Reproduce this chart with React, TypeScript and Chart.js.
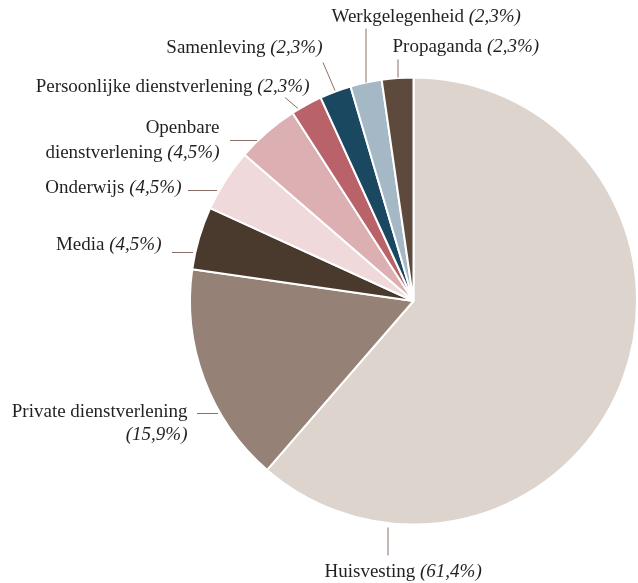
import React, { useEffect, useRef } from "react";
import { Chart, registerables } from "chart.js";

Chart.register(...registerables);

const categories = [
  "Huisvesting",
  "Private dienstverlening",
  "Media",
  "Onderwijs",
  "Openbare dienstverlening",
  "Persoonlijke dienstverlening",
  "Samenleving",
  "Werkgelegenheid",
  "Propaganda",
];
const counts = [27, 7, 2, 2, 2, 1, 1, 1, 1];
const colors = [
  "#ddd4ce",
  "#968176",
  "#4a3a2d",
  "#f0d9da",
  "#dcb0b2",
  "#b9626a",
  "#1a4861",
  "#a4b8c6",
  "#5d4a3d",
];

// label layout: offsets relative to pie centre
type LabelLayout = {
  lines: string[]; // last line gets the percentage appended
  align: "left" | "right";
  tx: number;
  ty: number[];
  l1: [number, number];
  l2: [number, number];
};
const labelLayout: LabelLayout[] = [
  { lines: ["Huisvesting"], align: "left", tx: -89, ty: [276], l1: [-26, 226], l2: [-26, 254] },
  { lines: ["Private dienstverlening", ""], align: "right", tx: -226, ty: [116, 139], l1: [-217, 112], l2: [-196, 112] },
  { lines: ["Media"], align: "right", tx: -252, ty: [-51], l1: [-242, -49], l2: [-221, -49] },
  { lines: ["Onderwijs"], align: "right", tx: -232, ty: [-108], l1: [-226, -111], l2: [-197, -111] },
  { lines: ["Openbare", "dienstverlening"], align: "right", tx: -194, ty: [-168, -143], l1: [-184, -161], l2: [-157, -161] },
  { lines: ["Persoonlijke dienstverlening"], align: "right", tx: -104, ty: [-209], l1: [-129, -204], l2: [-116, -193] },
  { lines: ["Samenleving"], align: "right", tx: -91, ty: [-248], l1: [-91, -239], l2: [-79, -211] },
  { lines: ["Werkgelegenheid"], align: "left", tx: -82, ty: [-279], l1: [-48, -273], l2: [-48, -219] },
  { lines: ["Propaganda"], align: "left", tx: -21, ty: [-249], l1: [-16, -242], l2: [-16, -224] },
];

const FONT_FAMILY = '"Liberation Serif", "Times New Roman", serif';
const FONT_SIZE = 19;

const labelPlugin = {
  id: "pieLabels",
  afterDraw(chart: any) {
    const ctx = chart.ctx;
    const meta = chart.getDatasetMeta(0);
    const arc = meta.data[0];
    if (!arc) return;
    const cx = arc.x;
    const cy = arc.y;
    const total = counts.reduce((a, b) => a + b, 0);
    ctx.save();
    ctx.strokeStyle = "#8a7064";
    ctx.lineWidth = 1;
    ctx.fillStyle = "#231f20";
    ctx.textBaseline = "alphabetic";
    labelLayout.forEach((lab, i) => {
      ctx.beginPath();
      ctx.moveTo(cx + lab.l1[0] + 0.5, cy + lab.l1[1] + 0.5);
      ctx.lineTo(cx + lab.l2[0] + 0.5, cy + lab.l2[1] + 0.5);
      ctx.stroke();
      const pct = "(" + ((counts[i] / total) * 100).toFixed(1).replace(".", ",") + "%)";
      lab.lines.forEach((line, li) => {
        const isLast = li === lab.lines.length - 1;
        const roman = isLast && line ? line + " " : line;
        const italic = isLast ? pct : "";
        ctx.font = `${FONT_SIZE}px ${FONT_FAMILY}`;
        const wR = ctx.measureText(roman).width;
        ctx.font = `italic ${FONT_SIZE}px ${FONT_FAMILY}`;
        const wI = ctx.measureText(italic).width;
        const total = wR + wI;
        let x = lab.align === "left" ? cx + lab.tx : cx + lab.tx - total;
        const y = cy + lab.ty[li];
        ctx.textAlign = "left";
        ctx.font = `${FONT_SIZE}px ${FONT_FAMILY}`;
        ctx.fillText(roman, x, y);
        ctx.font = `italic ${FONT_SIZE}px ${FONT_FAMILY}`;
        ctx.fillText(italic, x + wR, y);
      });
    });
    ctx.restore();
  },
};

export default function App() {
  const ref = useRef<HTMLCanvasElement>(null);
  useEffect(() => {
    if (!ref.current) return;
    const chart = new Chart(ref.current, {
      type: "pie",
      data: {
        labels: categories,
        datasets: [
          {
            data: counts,
            backgroundColor: colors,
            borderColor: "#ffffff",
            borderWidth: 2,
          },
        ],
      },
      options: {
        responsive: false,
        animation: false,
        layout: { padding: { left: 189, right: 0, top: 76, bottom: 57 } },
        plugins: {
          legend: { display: false },
          tooltip: { enabled: false },
        },
      },
      plugins: [labelPlugin],
    });
    return () => chart.destroy();
  }, []);
  return (
    <canvas
      ref={ref}
      width={638}
      height={583}
      style={{ position: "fixed", left: 0, top: 0, width: 638, height: 583 }}
    />
  );
}
